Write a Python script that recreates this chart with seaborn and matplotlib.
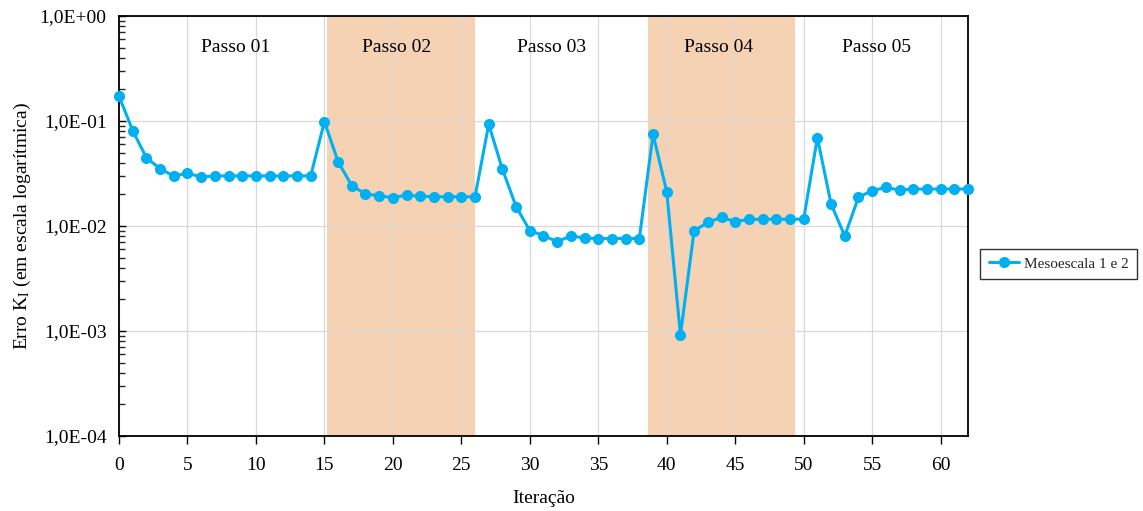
import numpy as np
import pandas as pd
import matplotlib
matplotlib.use("Agg")
import matplotlib.pyplot as plt
from matplotlib.ticker import FixedLocator, FuncFormatter, LogLocator, NullFormatter
import seaborn as sns

# Erro de K_I por iteração (escala logarítmica)
iteracao = list(range(63))
erro_ki = [
    0.173, 0.081, 0.0447, 0.0351, 0.0299, 0.0318, 0.0293, 0.0300, 0.0300, 0.0300,
    0.0300, 0.0300, 0.0300, 0.0300, 0.0300, 0.0985, 0.041, 0.0242, 0.0202, 0.0194,
    0.0186, 0.0197, 0.0192, 0.0190, 0.0190, 0.0190, 0.0190, 0.093, 0.0347, 0.0153,
    0.00903, 0.00809, 0.0071, 0.00803, 0.00769, 0.0076, 0.0076, 0.0076, 0.0076, 0.0747,
    0.0212, 0.000916, 0.00903, 0.0108, 0.0121, 0.0110, 0.01157, 0.0116, 0.0116, 0.0116,
    0.0116, 0.0693, 0.0162, 0.00803, 0.0188, 0.0217, 0.0233, 0.0220, 0.0225, 0.0225,
    0.0225, 0.0225, 0.0225,
]
serie = "Mesoescala 1 e 2"

# Passos de carregamento: rótulos, posição do rótulo e faixas sombreadas
passos = ["Passo 01", "Passo 02", "Passo 03", "Passo 04", "Passo 05"]
passos_x = [8.5, 20.3, 31.6, 43.8, 55.3]
faixas = [(15.2, 26.0), (38.6, 49.4)]

df = pd.DataFrame({"Iteração": iteracao, "Erro": erro_ki, "Série": serie})

sns.set_theme(style="white")
plt.rcParams["font.family"] = ["Liberation Serif", "DejaVu Serif"]
plt.rcParams["mathtext.fontset"] = "custom"
plt.rcParams["mathtext.rm"] = "Liberation Serif"
plt.rcParams["mathtext.it"] = "Liberation Serif:italic"

fig = plt.figure(figsize=(11.43, 5.11), dpi=100)
ax = fig.add_axes([0.1041, 0.1468, 0.7428, 0.8219])

for x0, x1 in faixas:
    ax.axvspan(x0, x1, color="#F5D2B3", lw=0, zorder=0.5)

sns.lineplot(data=df, x="Iteração", y="Erro", hue="Série", palette=["#00B0F0"],
             marker="o", markersize=8, markeredgewidth=0, linewidth=2.2,
             ax=ax, zorder=3, clip_on=False)

ax.set_yscale("log")
ax.set_ylim(1e-4, 1)
ax.set_xlim(0, 62)

ax.yaxis.set_major_locator(FixedLocator([1e-4, 1e-3, 1e-2, 1e-1, 1e0]))
ax.yaxis.set_major_formatter(FuncFormatter(
    lambda v, p: "1,0E{:+03d}".format(int(round(np.log10(v))))))
ax.yaxis.set_minor_locator(LogLocator(base=10, subs=np.arange(2, 10)))
ax.yaxis.set_minor_formatter(NullFormatter())
ax.set_xticks(range(0, 61, 5))

ax.grid(True, which="major", color="#D9D9D9", linewidth=0.9, zorder=0)
ax.set_axisbelow(True)

ax.tick_params(axis="y", which="major", direction="in", length=5, width=1,
               left=True, labelsize=14, pad=9, colors="black")
ax.tick_params(axis="y", which="minor", direction="in", length=4, width=1, left=True)
ax.tick_params(axis="x", which="major", direction="out", length=6, width=1,
               bottom=True, labelsize=14, pad=9, colors="black")

for s in ax.spines.values():
    s.set_visible(True)
    s.set_color("black")
    s.set_linewidth(1.3)

ax.set_xlabel("Iteração", fontsize=14, labelpad=12, color="black")
ax.set_ylabel(r"Erro K$_{\mathrm{I}}$ (em escala logarítmica)", fontsize=14,
              labelpad=5, color="black")

for nome, xp in zip(passos, passos_x):
    ax.text(xp, 0.926, nome, transform=ax.get_xaxis_transform(),
            ha="center", va="center", fontsize=14, color="black")

leg = ax.legend(loc="center left", bbox_to_anchor=(0.851, 0.4834),
                bbox_transform=fig.transFigure, frameon=True, fancybox=False,
                fontsize=11, handlelength=2.0, borderpad=0.55, handletextpad=0.3)
leg.get_frame().set_edgecolor("black")
leg.get_frame().set_linewidth(1.0)

fig.savefig("out.png", dpi=100, facecolor="white")
